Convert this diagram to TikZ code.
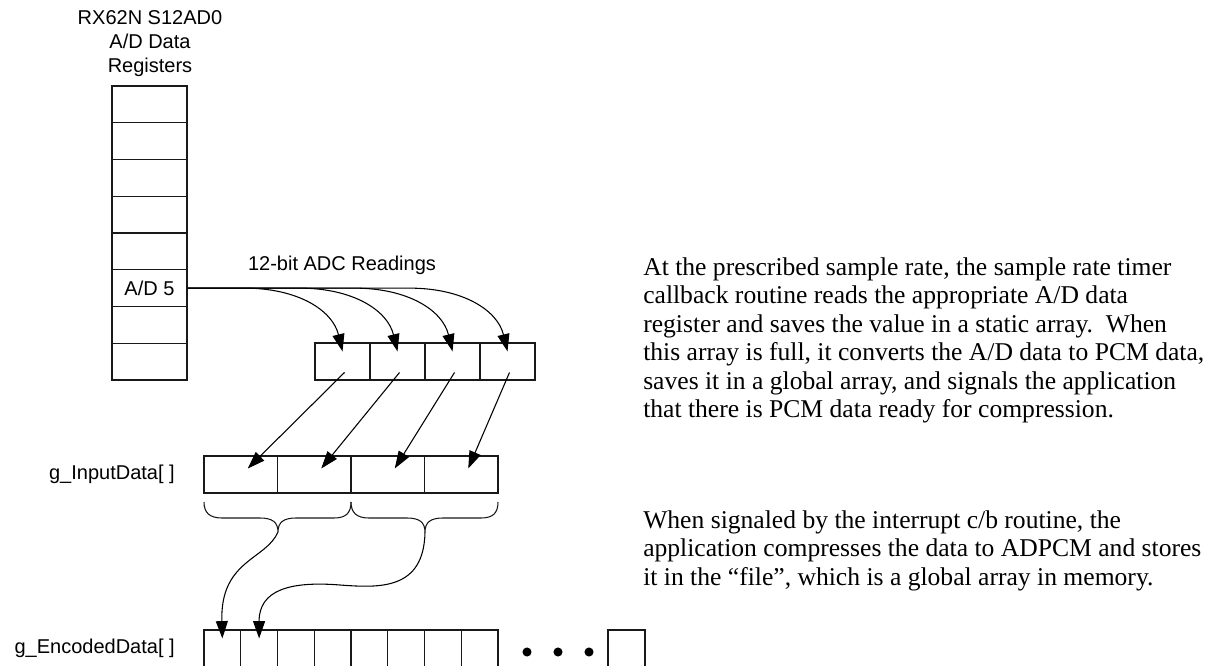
\documentclass[tikz,border=0pt]{standalone}
\usepackage{fontspec}
\setmainfont{Liberation Serif}
\newfontfamily\arialfont{Liberation Sans}
\usetikzlibrary{arrows.meta,calc}
\begin{document}
\begin{tikzpicture}[x=0.75pt,y=-0.75pt,
  cellbox/.style={draw=black!90,line width=1pt,inner sep=0pt,minimum height=27.6pt},
  regcell/.style={cellbox,minimum width=56.25pt},
  smallcell/.style={cellbox,minimum width=41.25pt},
  incell/.style={cellbox,minimum width=55.1pt},
  enccell/.style={cellbox,minimum width=27.56pt},
  lbl/.style={font=\arialfont\fontsize{15}{18}\selectfont,inner sep=0pt},
  para/.style={font=\fontsize{19.2}{21.4}\selectfont,align=left,inner sep=0pt,anchor=north west},
  conn/.style={draw=black,line width=0.8pt,-{Triangle[length=13pt,width=9pt]}},
  bracestyle/.style={draw=black!90,line width=0.8pt},
]
\useasboundingbox (0,0) rectangle (1206,666);
\clip (0,0) rectangle (1206,666);

% title
\node[lbl,align=center] (title) at (150,44) {RX62N S12AD0\\A/D Data\\Registers};

% register column
\node[regcell] (r1) at (149.5,104.375) {};
\node[regcell] (r2) at (149.5,141.125) {};
\node[regcell] (r3) at (149.5,177.875) {};
\node[regcell] (r4) at (149.5,214.625) {};
\node[regcell] (r5) at (149.5,251.375) {};
\node[regcell,font=\arialfont\fontsize{15}{18}\selectfont] (r6) at (149.5,288.125) {A/D 5};
\node[regcell] (r7) at (149.5,324.875) {};
\node[regcell] (r8) at (149.5,361.625) {};

\node[lbl] (readlbl) at (342,265) {12-bit ADC Readings};

% small static array
\foreach \k/\x in {1/342.5,2/397.5,3/452.5,4/507.5}
  \node[smallcell] (s\k) at (\x,361.5) {};

% g_InputData
\node[lbl,anchor=east] (ginlbl) at (175,474.5) {g\_InputData[ ]};
\foreach \k/\x in {1/240.75,2/314.25,3/387.75,4/461.25}
  \node[incell] (g\k) at (\x,474.5) {};

% g_EncodedData
\node[lbl,anchor=east] (genclbl) at (175,648) {g\_EncodedData[ ]};
\foreach \k/\x in {1/222.375,2/259.125,3/295.875,4/332.625,5/369.375,6/406.125,7/442.875,8/479.625,9/626.5}
  \node[enccell] (e\k) at (\x,648.5) {};
\fill[black] (527,652) circle[radius=3.4pt];
\fill[black] (558,652) circle[radius=3.4pt];
\fill[black] (589,652) circle[radius=3.4pt];

% ADC readings into the static array
\foreach \k/\x in {1/342.5,2/397.5,3/452.5,4/507.5}
  \draw[conn] (r6.east) -- (\x-98,288.125) .. controls (\x-45,288.125) and (\x-10,310) .. ($(s\k.north)+(0,9)$);

% static array to g_InputData
\foreach \k in {1,2,3,4}
  \draw[conn] ($(s\k.center)+(2,11)$) -- ($(g\k.center)+(7,-6)$);

% braces
\coordinate (bt1) at (278,532);
\coordinate (bt2) at (425,532);
\draw[bracestyle] (204,502) .. controls (204,513) and (210,518) .. (222,518) -- (260,518)
  .. controls (272,518) and (278,522) .. (bt1)
  .. controls (278,522) and (284,518) .. (296,518) -- (334,518)
  .. controls (346,518) and (351,513) .. (351,502);
\draw[bracestyle] (351,502) .. controls (351,513) and (357,518) .. (369,518) -- (407,518)
  .. controls (419,518) and (425,522) .. (bt2)
  .. controls (425,522) and (431,518) .. (443,518) -- (481,518)
  .. controls (493,518) and (498,513) .. (498,502);

% compressed data into g_EncodedData
\draw[conn] (bt1) .. controls (266,560) and (220,560) .. ($(e1.north)+(0,9)$);
\draw[conn] (bt2) .. controls (424,590) and (380,588) .. (340,585)
  .. controls (290,581) and (259,590) .. ($(e2.north)+(0,9)$);

% explanatory text
\node[para] (p1) at (643,257) {At the prescribed sample rate, the sample rate timer\\
callback routine reads the appropriate A/D data\\
register and saves the value in a static array.\ \ When\\
this array is full, it converts the A/D data to PCM data,\\
saves it in a global array, and signals the application\\
that there is PCM data ready for compression.};
\node[para] (p2) at (643,510) {When signaled by the interrupt c/b routine, the\\
application compresses the data to ADPCM and stores\\
it in the “file”, which is a global array in memory.};
\end{tikzpicture}
\end{document}
